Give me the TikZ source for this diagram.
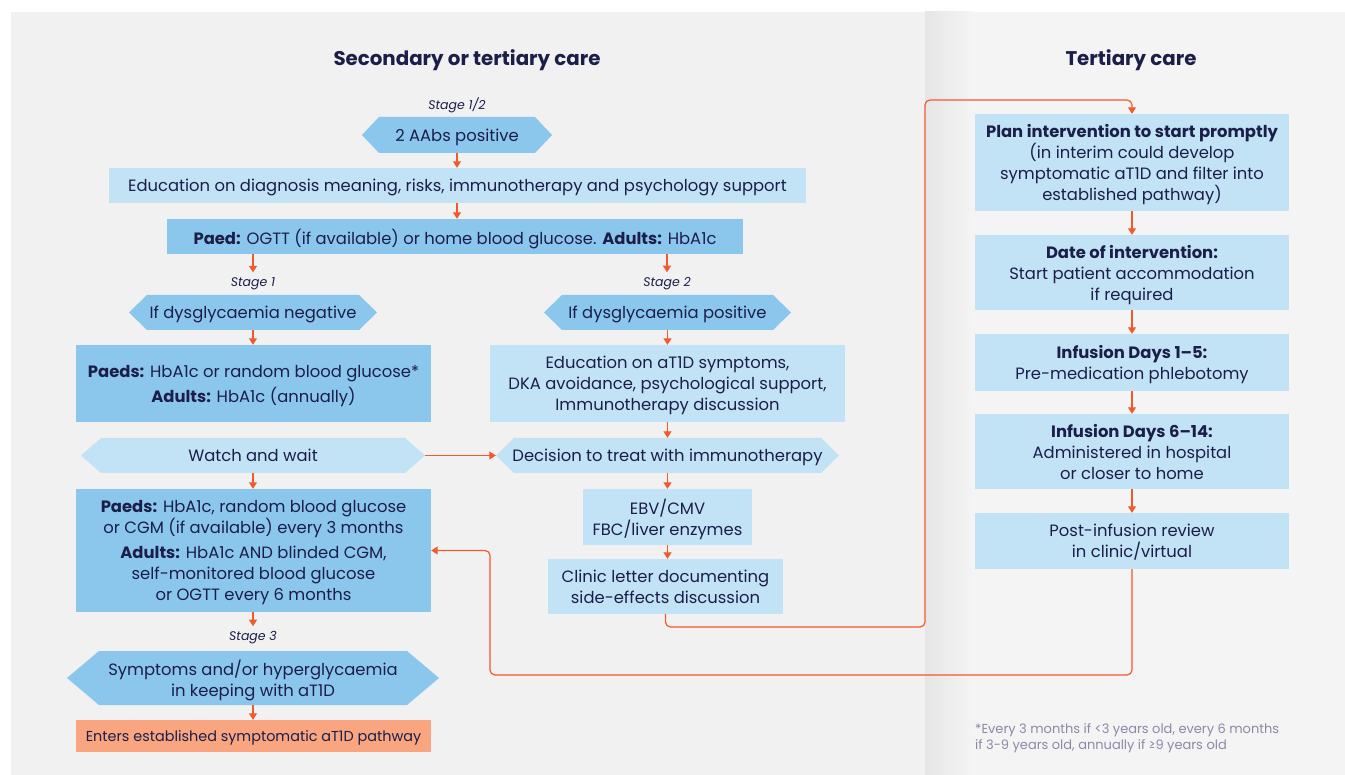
\documentclass[tikz,border=0pt]{standalone}
\usepackage{fontspec}
\setmainfont{Poppins}
\usetikzlibrary{arrows.meta,calc}
\definecolor{txt}{HTML}{1C1E4A}
\definecolor{midb}{HTML}{8BC6EC}
\definecolor{lightb}{HTML}{C2E3F6}
\definecolor{orng}{HTML}{F8A580}
\definecolor{arr}{HTML}{F15A2B}
\definecolor{leftbg}{HTML}{F0F1F0}
\definecolor{rightbg}{HTML}{F4F4F4}
\definecolor{foot}{HTML}{8A8AA8}
\begin{document}
\begin{tikzpicture}[x=1pt,y=-1pt,
  every node/.style={text=txt, font=\fontsize{16.4}{21}\selectfont, inner sep=0pt, align=center, text depth=0pt},
  hexfill/.store in=\hexfill, hexind/.store in=\hexind, hexfill=midb, hexind=18,
  rbox/.style 2 args={minimum width=#1, minimum height=#2},
  mbox/.style 2 args={rbox={#1}{#2}, fill=midb},
  lbox/.style 2 args={rbox={#1}{#2}, fill=lightb},
  hexa/.style 2 args={rbox={#1}{#2}, path picture={
     \fill[\hexfill] ($(path picture bounding box.north west)+(\hexind,0)$)
       -- ($(path picture bounding box.north east)+(-\hexind,0)$)
       -- ($(path picture bounding box.north east)!0.5!(path picture bounding box.south east)$)
       -- ($(path picture bounding box.south east)+(-\hexind,0)$)
       -- ($(path picture bounding box.south west)+(\hexind,0)$)
       -- ($(path picture bounding box.north west)!0.5!(path picture bounding box.south west)$)
       -- cycle;}},
  stage/.style={font=\fontsize{12.5}{15}\selectfont\itshape},
  title/.style={font=\fontsize{19.8}{24}\selectfont\bfseries},
  conn/.style={draw=arr, line width=1.2pt, -{Triangle[width=8pt,length=6.5pt]}},
  longconn/.style={conn, rounded corners=5pt},
]
\useasboundingbox (0,0) rectangle (1345,775);
\fill[white] (0,0) rectangle (1345,775);
\fill[leftbg] (11,12) rectangle (925,775);
\fill[rightbg] (925,12) rectangle (1345,775);
\shade[left color=black!10, right color=rightbg] (925,12) rectangle (972,775);

% titles
\node[title] (t1) at (467,58) {Secondary or tertiary care};
\node[title] (t2) at (1131,58) {Tertiary care};

% left column
\node[stage] (s12) at (457,104) {Stage 1/2};
\node[hexa={190}{36}, hexind=17] (aabs) at (457,135) {2 AAbs positive};
\node[lbox={697}{35}] (edu) at (457.5,185.5) {Education on diagnosis meaning, risks, immunotherapy and psychology support};
\node[mbox={576}{35}] (paed) at (455,236.5) {\textbf{Paed:} OGTT (if available) or home blood glucose. \textbf{Adults:} HbA1c};
\node[stage] (s1) at (253,282) {Stage 1};
\node[stage] (s2) at (667,282) {Stage 2};
\node[hexa={248}{35}] (neg) at (253,312.5) {If dysglycaemia negative};
\node[hexa={247}{35}] (pos) at (667.5,312.5) {If dysglycaemia positive};
\node[mbox={355}{77}] (pa1) at (253.5,383.5) {\textbf{Paeds:} HbA1c or random blood glucose*\\[4pt]\textbf{Adults:} HbA1c (annually)};
\node[lbox={355}{77}] (edu2) at (667.5,383.5) {Education on aT1D symptoms,\\DKA avoidance, psychological support,\\Immunotherapy discussion};
\node[hexa={344}{35}, hexfill=lightb, hexind=20] (watch) at (253,455.5) {Watch and wait};
\node[hexa={343}{35}, hexfill=lightb, hexind=18] (dec) at (667.5,455.5) {Decision to treat with immunotherapy};
\node[mbox={355}{123}] (pa2) at (253.5,550.5) {\textbf{Paeds:} HbA1c, random blood glucose\\or CGM (if available) every 3 months\\[4pt]\textbf{Adults:} HbA1c AND blinded CGM,\\self-monitored blood glucose\\or OGTT every 6 months};
\node[lbox={169}{56}] (ebv) at (667.5,517) {EBV/CMV\\FBC/liver enzymes};
\node[lbox={235}{55}] (clin) at (665.5,586.5) {Clinic letter documenting\\side-effects discussion};
\node[stage] (s3) at (253,636) {Stage 3};
\node[hexa={372}{54}, hexind=32] (sym) at (253,678) {Symptoms and/or hyperglycaemia\\in keeping with aT1D};
\node[rbox={355}{32}, fill=orng, font=\fontsize{14.4}{17}\selectfont] (ent) at (253.5,736) {Enters established symptomatic aT1D pathway};

% right column
\node[lbox={314}{97}] (plan) at (1132,162.5) {\textbf{Plan intervention to start promptly}\\(in interim could develop\\symptomatic aT1D and filter into\\established pathway)};
\node[lbox={314}{75}] (date) at (1132,272.5) {\textbf{Date of intervention:}\\Start patient accommodation\\if required};
\node[lbox={314}{57}] (inf1) at (1132,362.5) {\textbf{Infusion Days 1--5:}\\Pre-medication phlebotomy};
\node[lbox={314}{75}] (inf2) at (1132,451.5) {\textbf{Infusion Days 6--14:}\\Administered in hospital\\or closer to home};
\node[lbox={314}{56}] (post) at (1132,541) {Post-infusion review\\in clinic/virtual};
\node[anchor=west, align=left, text=foot, font=\fontsize{13}{16}\selectfont] (fn) at (975,737) {*Every 3 months if <3 years old, every 6 months\\if 3-9 years old, annually if ≥9 years old};

% coordinates
\coordinate (c1) at (925,627);
\coordinate (c2) at (925,100);
\coordinate (c3) at (490,675);

% connectors
\draw[conn] (aabs.south) -- (aabs.south |- edu.north);
\draw[conn] (aabs.south |- edu.south) -- (aabs.south |- paed.north);
\draw[conn] (paed.south -| s1.north) -- ([yshift=5pt]s1.north);
\draw[conn] (paed.south -| s2.north) -- ([yshift=5pt]s2.north);
\draw[conn] (neg.south) -- (neg.south |- pa1.north);
\draw[conn] (pos.south) -- (pos.south |- edu2.north);
\draw[conn] (pos.south |- edu2.south) -- (dec.north);
\draw[conn] (watch.south) -- (watch.south |- pa2.north);
\draw[conn] (watch.east) -- (dec.west);
\draw[conn] (dec.south) -- (dec.south |- ebv.north);
\draw[conn] (dec.south |- ebv.south) -- (dec.south |- clin.north);
\draw[conn] (s3.north |- pa2.south) -- ([yshift=5pt]s3.north);
\draw[conn] (sym.south) -- (sym.south |- ent.north);
\draw[longconn] (clin.south) |- (c1) -- (c2) -| (plan.north);
\draw[conn] (plan.south) -- (date.north);
\draw[conn] (date.south) -- (inf1.north);
\draw[conn] (inf1.south) -- (inf2.north);
\draw[conn] (inf2.south) -- (post.north);
\draw[longconn] (post.south) |- (c3) |- (pa2.east);
\end{tikzpicture}
\end{document}
